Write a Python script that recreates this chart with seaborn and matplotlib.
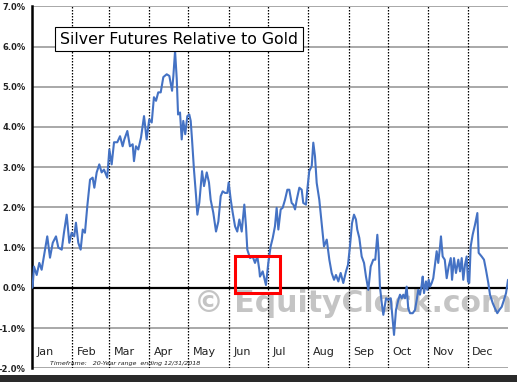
import matplotlib
matplotlib.use("Agg")
import matplotlib.pyplot as plt
import matplotlib.patches as mpatches
import numpy as np
import pandas as pd
import seaborn as sns

# ---- data (day of year, % relative performance) ----
days = [0, 0.5, 1.5, 3.6, 5.6, 7.4, 10.0, 11.7, 13.8, 15.9, 18.4, 20.2, 22.8, 24.5, 26.6, 28.6,
        30.4, 32.4, 33.7, 35.5, 37.3, 38.9, 40.6, 42.4, 44.5, 46.5, 47.8, 49.6, 51.6, 53.4,
        55.2, 57.7, 59.3, 61.1, 62.9, 65.4, 67.5, 69.5, 70.8, 73.1, 75.1, 77.2, 78.2, 79.7,
        81.5, 83.6, 85.9, 87.9, 89.9, 91.8, 93.5, 95.1, 96.8, 98.7, 100.7, 103.3, 105.3,
        107.4, 108.4, 109.7, 111.0, 112.0, 113.5, 114.8, 116.0, 117.5, 119.1, 120.6, 121.7,
        122.7, 124.2, 125.8, 126.8, 128.3, 130.4, 131.9, 134.0, 135.7, 137.0, 139.0, 141.1,
        142.9, 144.7, 146.2, 148.0, 149.8, 150.8, 152.4, 153.9, 155.7, 157.4, 159.0, 160.8,
        162.8, 164.1, 165.1, 167.2, 169.2, 171.0, 172.8, 174.3, 174.8, 176.9, 179.4, 181.2,
        183.0, 184.6, 186.3, 187.6, 188.9, 190.7, 192.2, 194.0, 195.8, 197.3, 199.1, 200.4,
        201.7, 203.0, 205.0, 206.8, 208.0, 210.1, 211.1, 212.6, 214.5, 215.7, 217.0, 218.3,
        220.3, 222.1, 223.9, 226.0, 228.0, 229.8, 231.6, 233.1, 234.9, 236.7, 238.7, 240.8,
        242.3, 243.8, 245.4, 246.9, 248.4, 249.4, 251.0, 252.8, 254.6, 256.1, 257.9, 259.7,
        261.7, 263.2, 264.8, 265.8, 266.8, 268.2, 269.4, 271.5, 273.2, 275.1, 276.6, 277.6,
        279.1, 280.9, 282.2, 283.5, 284.7, 286.0, 287.3, 288.5, 289.9, 291.9, 293.7, 295.0,
        296.2, 297.5, 298.8, 299.6, 300.6, 302.1, 303.1, 304.2, 305.2, 306.5, 307.7, 309.0,
        310.3, 311.5, 312.9, 313.6, 314.9, 316.5, 318.0, 319.5, 321.1, 322.1, 323.6, 325.1,
        326.9, 328.2, 329.5, 330.7, 332.0, 333.3, 334.3, 335.3, 336.4, 337.9, 339.7, 341.5,
        342.5, 344.8, 346.6, 348.1, 349.9, 351.2, 353.3, 355.0, 356.8, 358.3, 360.2, 361.9,
        363.5, 365.0]
values = [0.0, 0.03, 0.53, 0.32, 0.62, 0.45, 0.95, 1.28, 0.75, 1.12, 1.28, 1.00, 0.95, 1.37, 1.82, 1.12,
          1.37, 1.28, 1.62, 1.12, 0.95, 1.45, 1.37, 2.03, 2.69, 2.74, 2.49, 2.87, 3.07, 2.87,
          2.94, 2.74, 3.44, 3.07, 3.62, 3.62, 3.77, 3.52, 3.69, 3.90, 3.52, 3.57, 3.15, 3.52,
          3.44, 3.74, 4.27, 3.69, 4.19, 4.11, 4.74, 4.65, 4.86, 4.86, 5.24, 5.31, 5.27,
          4.90, 5.27, 5.89, 5.19, 4.31, 4.36, 3.69, 4.15, 3.82, 4.27, 4.31, 4.15,
          3.69, 2.94, 2.28, 1.82, 2.12, 2.90, 2.53, 2.87, 2.62, 2.19, 1.87, 1.40,
          1.65, 2.28, 2.40, 2.36, 2.36, 2.62, 2.19, 1.87, 1.53, 1.40, 1.70, 1.40,
          2.07, 1.53, 0.95, 0.74, 0.78, 0.62, 0.78, 0.45, 0.28, 0.41, 0.07, 0.62,
          1.03, 1.24, 1.53, 1.99, 1.45, 1.95, 1.99, 2.19, 2.44, 2.44, 2.11, 2.07,
          1.95, 2.19, 2.49, 2.44, 2.11, 2.07, 2.44, 2.90, 3.03, 3.61, 3.27, 2.61,
          2.19, 1.61, 1.03, 1.20, 0.70, 0.37, 0.20, 0.32, 0.16, 0.37, 0.12, 0.41,
          0.57, 1.03, 1.61, 1.82, 1.70, 1.45, 1.24, 0.78, 0.62, 0.28, -0.05, 0.53,
          0.70, 0.70, 1.32, 0.87, 0.03, -0.38, -0.67, -0.26, -0.30, -0.26, -0.80, -1.17,
          -0.55, -0.30, -0.17, -0.26, -0.17, -0.26, 0.03, -0.51, -0.63, -0.63, -0.55, -0.30,
          -0.05, -0.17, 0.07, 0.28, -0.13, 0.16, -0.05, 0.20, 0.03, 0.12, 0.24, 0.57,
          0.91, 0.62, 1.03, 1.28, 0.78, 0.70, 0.24, 0.53, 0.74, 0.20, 0.74, 0.37,
          0.70, 0.41, 0.74, 0.20, 0.57, 0.78, 0.16, 0.12, 1.03, 1.32, 1.57, 1.86,
          0.87, 0.78, 0.70, 0.45, 0.12, -0.17, -0.38, -0.51, -0.63, -0.55, -0.47, -0.30,
          -0.13, 0.20]

months = ["Jan", "Feb", "Mar", "Apr", "May", "Jun", "Jul", "Aug", "Sep", "Oct", "Nov", "Dec"]
month_starts = [0, 31, 59, 90, 120, 151, 181, 212, 243, 273, 304, 334]
y_ticks = [-2, -1, 0, 1, 2, 3, 4, 5, 6, 7]
y_labels = ["-2.0%", "-1.0%", "0.0%", "1.0%", "2.0%", "3.0%", "4.0%", "5.0%", "6.0%", "7.0%"]
title = "Silver Futures Relative to Gold"
footnote = "Timeframe:   20-Year range  ending 12/31/2018"
watermark = "\u00a9 EquityClock.com"
highlight_days = (155.7, 190.2)
highlight_vals = (-0.14, 0.79)

df = pd.DataFrame({"day": days, "value": values})

sns.set_style("white")
plt.rcParams["font.family"] = ["DejaVu Sans"]

fig = plt.figure(figsize=(5.17, 3.82), dpi=100)
ax = fig.add_axes([32 / 517, 1 - 368.3 / 382, 476 / 517, (368.3 - 6.3) / 382])
ax.set_xlim(0, 365)
ax.set_ylim(-2, 7)
ax.set_clip_on(False)

# gridlines
for t in y_ticks:
    if t == 0:
        ax.axhline(0, color="black", lw=1.6, zorder=3)
    else:
        ax.axhline(t, color="#9a9a9a", lw=1.2, zorder=1)
for m in month_starts[1:]:
    ax.axvline(m, color="black", lw=0.9, ls=(0, (1.2, 1.2)), zorder=2)

# watermark
ax.text(368, -0.38, watermark, ha="right", va="center", fontsize=21.5,
        fontweight="bold", color="#c4c4c4", zorder=1.5, clip_on=False)

sns.lineplot(data=df, x="day", y="value", ax=ax, color="#4472C4", lw=1.5, zorder=4)

# highlight rectangle
ax.add_patch(mpatches.Rectangle((highlight_days[0], highlight_vals[0]),
                                highlight_days[1] - highlight_days[0],
                                highlight_vals[1] - highlight_vals[0],
                                fill=False, edgecolor="#ff0000", lw=2.2, zorder=5))

# month labels
for m, s in zip(months, month_starts):
    ax.text(s + 3.5, -1.6, m, ha="left", va="center", fontsize=8, color="#222222", zorder=6)

ax.text(13.5, -1.87, footnote, ha="left", va="center", fontsize=4.6, style="italic",
        color="#222222", zorder=6)

# title box
ax.text(21.5, 6.18, title, ha="left", va="center", fontsize=11.3, color="black", zorder=7,
        bbox=dict(boxstyle="square,pad=0.3", fc="white", ec="black", lw=0.8))

ax.set_yticks(y_ticks)
ax.set_yticklabels(y_labels, fontsize=6.0, fontweight="bold", color="#222222")
ax.set_xticks([])
ax.set_xlabel("")
ax.set_ylabel("")
ax.tick_params(axis="y", length=2, width=1, pad=2.5, color="black")
for side in ["top", "right", "bottom"]:
    ax.spines[side].set_visible(False)
ax.spines["left"].set_color("black")
ax.spines["left"].set_linewidth(1.8)

# dark footer band
fig.patches.append(mpatches.Rectangle((0, 0), 1, 7 / 382, transform=fig.transFigure,
                                      facecolor="#2a2a2a", edgecolor="none"))

fig.savefig("out.png", dpi=100)
